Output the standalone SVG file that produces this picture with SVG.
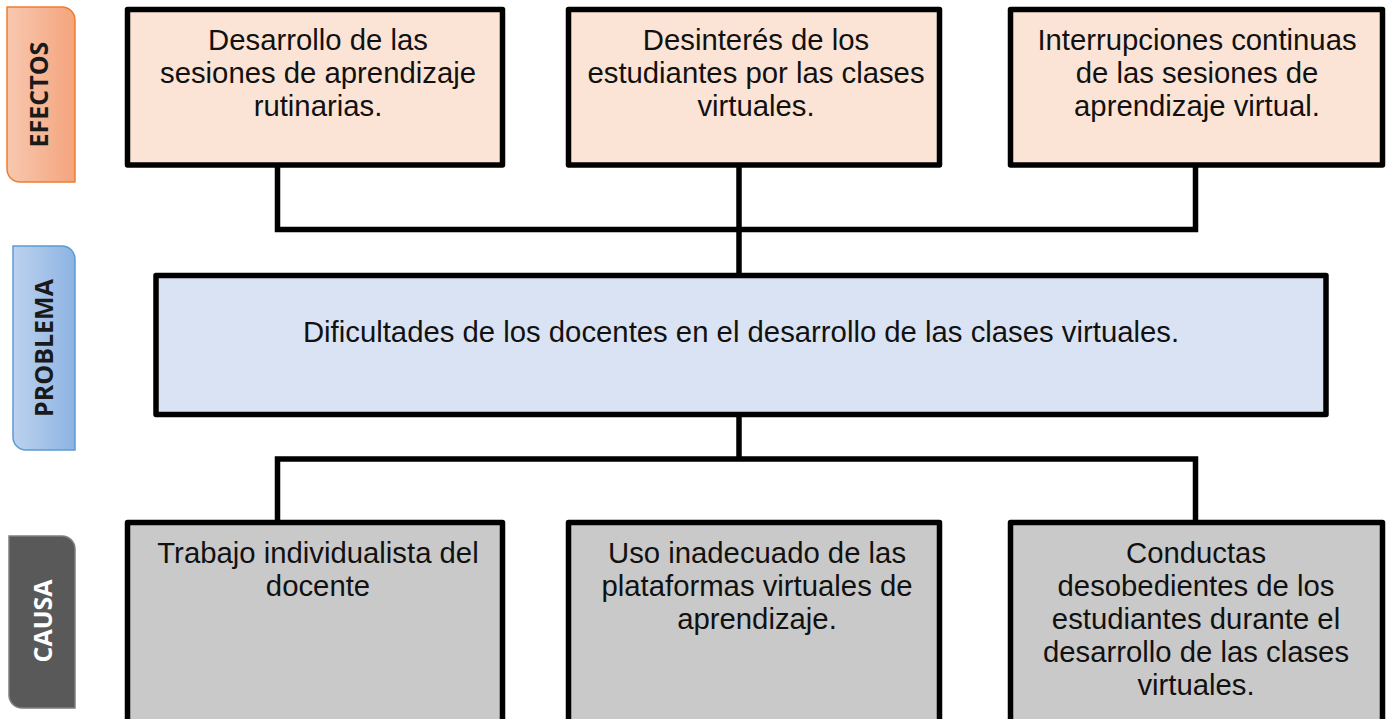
<svg xmlns="http://www.w3.org/2000/svg" width="1389" height="719" viewBox="0 0 1389 719">
<defs>
<linearGradient id="gOrange" x1="0" y1="0" x2="1" y2="0">
<stop offset="0" stop-color="#f8c8b0"/><stop offset="1" stop-color="#f4a47c"/>
</linearGradient>
<linearGradient id="gBlue" x1="0" y1="0" x2="1" y2="0">
<stop offset="0" stop-color="#bcd2ee"/><stop offset="1" stop-color="#8db3e2"/>
</linearGradient>
</defs>
<style>
.box{stroke:#000;stroke-width:5.5;stroke-linejoin:round}
.eff{fill:#fbe4d5}
.prob{fill:#dae3f3}
.cau{fill:#c9c9c9}
.t{font-family:"Liberation Sans",Arial,sans-serif;font-size:29.3px;fill:#111;text-anchor:middle}
.lbl{font-family:"Open Sans","Noto Sans",sans-serif;font-weight:bold;font-size:25px;text-anchor:middle}
.con{fill:none;stroke:#000;stroke-width:5.5;stroke-linejoin:miter}
</style>
<rect width="1389" height="719" fill="#fff"/>

<g id="label-efectos">
<path d="M7,7 H62 A13,13 0 0 1 75,20 V182 H20 A13,13 0 0 1 7,169 Z" fill="url(#gOrange)" stroke="#ed7d31" stroke-width="1.5"/>
<text class="lbl" fill="#1a1a1a" transform="translate(39,94.5) rotate(-90)" y="9">EFECTOS</text>
</g>
<g id="label-problema">
<path d="M13,246 H62 A13,13 0 0 1 75,259 V450 H26 A13,13 0 0 1 13,437 Z" fill="url(#gBlue)" stroke="#5b9bd5" stroke-width="1.5"/>
<text class="lbl" fill="#1a1a1a" transform="translate(44,348) rotate(-90)" y="9">PROBLEMA</text>
</g>
<g id="label-causa">
<path d="M9,536 H62 A13,13 0 0 1 75,549 V708 H22 A13,13 0 0 1 9,695 Z" fill="#595959" stroke="#7f7f7f" stroke-width="1.5"/>
<text class="lbl" fill="#ffffff" transform="translate(43,621) rotate(-90)" y="9">CAUSA</text>
</g>

<g id="connectors">
<path class="con" d="M277.5,166 V229.5 H1195.5 V166"/>
<path class="con" d="M739,166 V276"/>
<path class="con" d="M739,416 V459"/>
<path class="con" d="M277.5,523 V459 H1195.5 V523"/>
</g>

<g id="effect-1">
<rect class="box eff" x="127.5" y="9.5" width="375" height="155.5"/>
<text class="t"><tspan x="318" y="50">Desarrollo de las</tspan><tspan x="318" y="83">sesiones de aprendizaje</tspan><tspan x="318" y="116">rutinarias.</tspan></text>
</g>
<g id="effect-2">
<rect class="box eff" x="568.5" y="9.5" width="371" height="155.5"/>
<text class="t"><tspan x="756" y="50">Desinterés de los</tspan><tspan x="756" y="83">estudiantes por las clases</tspan><tspan x="756" y="116">virtuales.</tspan></text>
</g>
<g id="effect-3">
<rect class="box eff" x="1010.5" y="9.5" width="372" height="155.5"/>
<text class="t"><tspan x="1197" y="50">Interrupciones continuas</tspan><tspan x="1197" y="83">de las sesiones de</tspan><tspan x="1197" y="116">aprendizaje virtual.</tspan></text>
</g>

<g id="problem">
<rect class="box prob" x="156" y="275.5" width="1170" height="139"/>
<text class="t" x="741" y="342">Dificultades de los docentes en el desarrollo de las clases virtuales.</text>
</g>

<g id="cause-1">
<rect class="box cau" x="127.5" y="522.5" width="375" height="210"/>
<text class="t"><tspan x="318" y="563">Trabajo individualista del</tspan><tspan x="318" y="596">docente</tspan></text>
</g>
<g id="cause-2">
<rect class="box cau" x="568.5" y="522.5" width="371" height="210"/>
<text class="t"><tspan x="757" y="563">Uso inadecuado de las</tspan><tspan x="757" y="596">plataformas virtuales de</tspan><tspan x="757" y="629">aprendizaje.</tspan></text>
</g>
<g id="cause-3">
<rect class="box cau" x="1010.5" y="522.5" width="372" height="210"/>
<text class="t"><tspan x="1196" y="563">Conductas</tspan><tspan x="1196" y="596">desobedientes de los</tspan><tspan x="1196" y="629">estudiantes durante el</tspan><tspan x="1196" y="662">desarrollo de las clases</tspan><tspan x="1196" y="695">virtuales.</tspan></text>
</g>
</svg>
